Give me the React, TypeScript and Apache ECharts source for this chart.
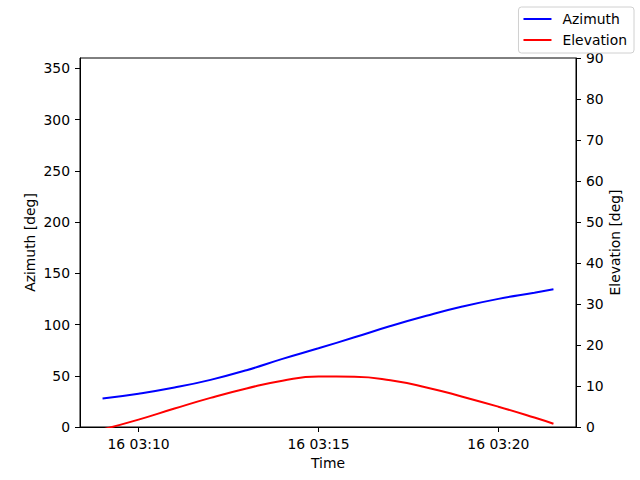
import { useEffect, useRef } from 'react';
import * as echarts from 'echarts';

// sample times (minutes after 03:00 on day 16)
const minutes = [9, 10, 11, 12, 13, 14, 15, 16, 17, 18, 19, 20, 21, 21.53];
const azimuth = [27.8, 32.5, 38.5, 46.0, 55.4, 66.5, 76.8, 87.5, 98.5, 108.5, 117.5, 125.0, 131.0, 134.3];
const elevation = [-0.6, 1.8, 4.5, 7.1, 9.4, 11.3, 12.3, 12.25, 11.4, 9.65, 7.4, 4.95, 2.3, 0.8];

const timeTicks = [10, 15, 20];
const azimuthTicks = [0, 50, 100, 150, 200, 250, 300, 350];

const FONT = 'DejaVu Sans';
const FS = 13.9;

export default function App() {
  const chartRef = useRef<HTMLDivElement>(null);

  useEffect(() => {
    if (!chartRef.current) return;
    const chart = echarts.init(chartRef.current, null, { renderer: 'svg' });

    const span = minutes[minutes.length - 1] - minutes[0];
    const xMin = minutes[0] - span * 0.05;
    const xMax = minutes[minutes.length - 1] + span * 0.05;

    const axisText = { color: '#000', fontFamily: FONT, fontSize: FS };
    const tick = { show: true, inside: false, length: 5, lineStyle: { color: '#000', width: 1 } };

    chart.setOption({
      animation: false,
      backgroundColor: '#fff',
      textStyle: { fontFamily: FONT },
      grid: {
        left: 80,
        right: 64,
        top: 58,
        bottom: 53,
        show: true,
        borderColor: '#000',
        borderWidth: 1,
        backgroundColor: 'transparent',
      },
      legend: {
        right: 6,
        top: 7,
        orient: 'vertical',
        icon: 'rect',
        itemWidth: 28,
        itemHeight: 2,
        itemGap: 7,
        padding: [5, 7, 6, 5],
        backgroundColor: '#fff',
        borderColor: '#d0d0d0',
        borderWidth: 1,
        borderRadius: 3,
        textStyle: { ...axisText, lineHeight: 14, padding: [0, 0, 0, 6] },
        data: ['Azimuth', 'Elevation'],
      },
      xAxis: {
        type: 'value',
        min: xMin,
        max: xMax,
        name: 'Time',
        nameLocation: 'middle',
        nameGap: 29,
        nameMoveOverlap: false,
        nameTextStyle: axisText,
        axisLine: { show: true, lineStyle: { color: '#000', width: 1 } },
        axisTick: { ...tick, customValues: timeTicks },
        axisLabel: {
          ...axisText,
          margin: 10,
          customValues: timeTicks,
          formatter: (v: number) => `16 03:${String(Math.round(v)).padStart(2, '0')}`,
        },
        splitLine: { show: false },
      },
      yAxis: [
        {
          type: 'value',
          min: 0,
          max: 360,
          position: 'left',
          name: 'Azimuth [deg]',
          nameLocation: 'middle',
          nameGap: 43,
          nameMoveOverlap: false,
          nameRotate: 90,
          nameTextStyle: axisText,
          axisLine: { show: true, lineStyle: { color: '#000', width: 1 } },
          axisTick: { ...tick, customValues: azimuthTicks },
          axisLabel: { ...axisText, margin: 10, customValues: azimuthTicks },
          splitLine: { show: false },
        },
        {
          type: 'value',
          min: 0,
          max: 90,
          interval: 10,
          position: 'right',
          name: 'Elevation [deg]',
          nameLocation: 'middle',
          nameGap: 32,
          nameMoveOverlap: false,
          nameRotate: 90,
          nameTextStyle: axisText,
          axisLine: { show: true, lineStyle: { color: '#000', width: 1 } },
          axisTick: tick,
          axisLabel: { ...axisText, margin: 10 },
          splitLine: { show: false },
        },
      ],
      series: [
        {
          name: 'Azimuth',
          type: 'line',
          yAxisIndex: 0,
          smooth: 0.5,
          symbol: 'none',
          color: '#0000ff',
          lineStyle: { color: '#0000ff', width: 2 },
          data: minutes.map((m, i) => [m, azimuth[i]]),
        },
        {
          name: 'Elevation',
          type: 'line',
          yAxisIndex: 1,
          smooth: 0.5,
          symbol: 'none',
          clip: true,
          color: '#ff0000',
          lineStyle: { color: '#ff0000', width: 2 },
          data: minutes.map((m, i) => [m, elevation[i]]),
        },
      ],
    });

    return () => chart.dispose();
  }, []);

  return (
    <div
      ref={chartRef}
      style={{ position: 'fixed', left: 0, top: 0, width: 640, height: 480 }}
    />
  );
}
